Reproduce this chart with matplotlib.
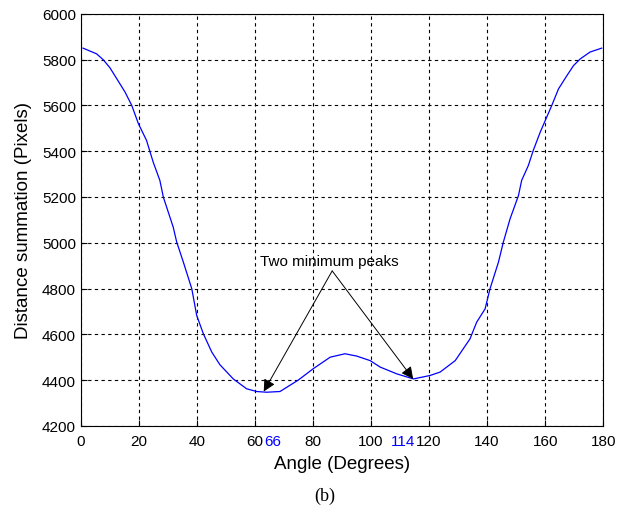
import numpy as np
import matplotlib
matplotlib.use('Agg')
import matplotlib.pyplot as plt

# Значения
angle = [0.7, 5.4, 7.7, 10, 15.2, 17.5, 19.8, 22.6, 24.9, 27.2, 28.4, 31.8, 33,
         35.3, 38.2, 39.9, 42.2, 45.1, 47.9, 52.5, 57.1, 60.6, 64, 68.6, 74.9,
         80.1, 85.9, 91, 95, 99.7, 103.1, 108.9, 114.6, 120.3, 123.8, 129,
         134.1, 136.4, 139.3, 141, 143.9, 145.6, 147.9, 150.8, 151.9, 154.2,
         155.9, 158.3, 162.3, 164.6, 167.5, 169.8, 172.1, 175.5, 179.5]
dist = [5850, 5825, 5799, 5764, 5658, 5600, 5520, 5447, 5352, 5272, 5199, 5068, 5003,
        4915, 4799, 4682, 4602, 4522, 4467, 4405, 4362, 4350, 4347, 4350, 4400,
        4450, 4500, 4515, 4505, 4485, 4457, 4427, 4405, 4420, 4435, 4485,
        4580, 4653, 4711, 4799, 4915, 5003, 5104, 5206, 5272, 5337,
        5403, 5483, 5600, 5672, 5730, 5774, 5803, 5833, 5850]
xticks = list(range(0, 181, 20))
yticks = list(range(4200, 6001, 200))
peaks = [66, 114]
peak_shift = [0, -9]   # сдвиг подписи в пикселях, как на оригинале
arrow_targets = [(63, 4350), (114.5, 4405)]
arrow_start = (86.6, 4877)

plt.rcParams['font.family'] = ['Liberation Sans', 'DejaVu Sans']

fig = plt.figure(figsize=(6.18, 5.10), dpi=100)
ax = fig.add_axes([0.131, 0.163, 0.845, 0.808])

ax.plot(angle, dist, color='#0000ff', linewidth=0.9)

ax.set_xlim(0, 180)
ax.set_ylim(4200, 6000)
ax.set_xticks(xticks)
ax.set_yticks(yticks)
ax.tick_params(direction='in', labelsize=11, length=4, width=0.8)
ax.tick_params(axis='x', pad=6)
ax.grid(True, color='black', linestyle=(0, (3, 3)), linewidth=0.8)
for s in ax.spines.values():
    s.set_linewidth(0.8)

# подписи минимумов под осью, на уровне делений
for p, dx in zip(peaks, peak_shift):
    ax.annotate(str(p), xy=(p, 0), xycoords=ax.get_xaxis_transform(),
                xytext=(dx * 0.72, -6), textcoords='offset points',
                color='#0000ff', fontsize=11, ha='center', va='top')

ax.set_xlabel('Angle (Degrees)', fontsize=13.5, labelpad=5)
ax.set_ylabel('Distance summation (Pixels)', fontsize=13.5, labelpad=7)

ax.text(85.5, 4888, 'Two minimum peaks', fontsize=11,
        ha='center', va='bottom')
for t in arrow_targets:
    ax.annotate('', xy=t, xytext=arrow_start,
                arrowprops=dict(arrowstyle='-|>', color='black', lw=0.7,
                                mutation_scale=18, shrinkA=0, shrinkB=0))

fig.text(0.526, 0.027, '(b)', fontsize=13, family='Liberation Serif',
         ha='center', va='center')

fig.savefig('out.png', dpi=100)
